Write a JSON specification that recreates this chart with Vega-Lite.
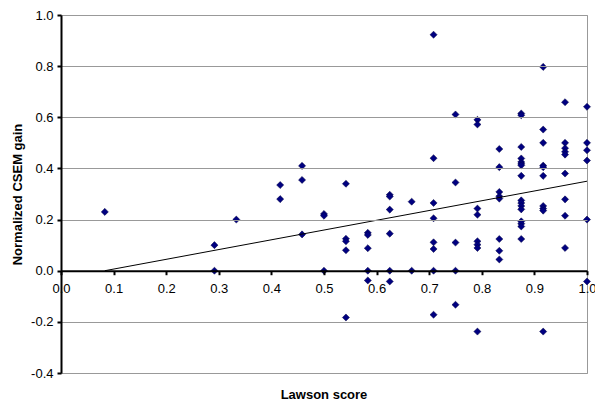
{
  "$schema": "https://vega.github.io/schema/vega-lite/v6.json",
  "width": 526,
  "height": 358,
  "autosize": {"type": "none"},
  "padding": {"left": 61, "top": 15, "right": 8, "bottom": 28},
  "background": "white",
  "config": {
    "view": {"stroke": "#999999", "strokeWidth": 1},
    "font": "Liberation Sans"
  },
  "title": {
    "text": "Lawson score",
    "orient": "bottom",
    "fontSize": 13,
    "fontWeight": "bold",
    "font": "Liberation Sans",
    "color": "black",
    "offset": 9,
    "anchor": "middle"
  },
  "datasets": {
    "points": [
      {"lawson": 0.0833, "gain": 0.23},
      {"lawson": 0.2917, "gain": 0.10},
      {"lawson": 0.2917, "gain": 0.0},
      {"lawson": 0.3333, "gain": 0.20},
      {"lawson": 0.4167, "gain": 0.335},
      {"lawson": 0.4167, "gain": 0.28},
      {"lawson": 0.4583, "gain": 0.41},
      {"lawson": 0.4583, "gain": 0.355},
      {"lawson": 0.4583, "gain": 0.142},
      {"lawson": 0.5, "gain": 0.222},
      {"lawson": 0.5, "gain": 0.215},
      {"lawson": 0.5, "gain": 0.0},
      {"lawson": 0.5417, "gain": 0.34},
      {"lawson": 0.5417, "gain": 0.125},
      {"lawson": 0.5417, "gain": 0.115},
      {"lawson": 0.5417, "gain": 0.08},
      {"lawson": 0.5417, "gain": -0.183},
      {"lawson": 0.5833, "gain": 0.148},
      {"lawson": 0.5833, "gain": 0.14},
      {"lawson": 0.5833, "gain": 0.088},
      {"lawson": 0.5833, "gain": 0.0},
      {"lawson": 0.5833, "gain": -0.038},
      {"lawson": 0.625, "gain": 0.297},
      {"lawson": 0.625, "gain": 0.29},
      {"lawson": 0.625, "gain": 0.239},
      {"lawson": 0.625, "gain": 0.145},
      {"lawson": 0.625, "gain": 0.0},
      {"lawson": 0.625, "gain": -0.042},
      {"lawson": 0.6667, "gain": 0.27},
      {"lawson": 0.6667, "gain": 0.0},
      {"lawson": 0.7083, "gain": 0.923},
      {"lawson": 0.7083, "gain": 0.44},
      {"lawson": 0.7083, "gain": 0.265},
      {"lawson": 0.7083, "gain": 0.205},
      {"lawson": 0.7083, "gain": 0.111},
      {"lawson": 0.7083, "gain": 0.085},
      {"lawson": 0.7083, "gain": 0.0},
      {"lawson": 0.7083, "gain": -0.172},
      {"lawson": 0.75, "gain": 0.611},
      {"lawson": 0.75, "gain": 0.345},
      {"lawson": 0.75, "gain": 0.11},
      {"lawson": 0.75, "gain": 0.0},
      {"lawson": 0.75, "gain": -0.133},
      {"lawson": 0.7917, "gain": 0.59},
      {"lawson": 0.7917, "gain": 0.572},
      {"lawson": 0.7917, "gain": 0.243},
      {"lawson": 0.7917, "gain": 0.219},
      {"lawson": 0.7917, "gain": 0.115},
      {"lawson": 0.7917, "gain": 0.102},
      {"lawson": 0.7917, "gain": 0.089},
      {"lawson": 0.7917, "gain": -0.238},
      {"lawson": 0.8333, "gain": 0.476},
      {"lawson": 0.8333, "gain": 0.405},
      {"lawson": 0.8333, "gain": 0.308},
      {"lawson": 0.8333, "gain": 0.291},
      {"lawson": 0.8333, "gain": 0.282},
      {"lawson": 0.8333, "gain": 0.124},
      {"lawson": 0.8333, "gain": 0.078},
      {"lawson": 0.8333, "gain": 0.044},
      {"lawson": 0.875, "gain": 0.615},
      {"lawson": 0.875, "gain": 0.608},
      {"lawson": 0.875, "gain": 0.484},
      {"lawson": 0.875, "gain": 0.439},
      {"lawson": 0.875, "gain": 0.425},
      {"lawson": 0.875, "gain": 0.418},
      {"lawson": 0.875, "gain": 0.412},
      {"lawson": 0.875, "gain": 0.371},
      {"lawson": 0.875, "gain": 0.275},
      {"lawson": 0.875, "gain": 0.265},
      {"lawson": 0.875, "gain": 0.253},
      {"lawson": 0.875, "gain": 0.24},
      {"lawson": 0.875, "gain": 0.193},
      {"lawson": 0.875, "gain": 0.184},
      {"lawson": 0.875, "gain": 0.173},
      {"lawson": 0.875, "gain": 0.124},
      {"lawson": 0.9167, "gain": 0.797},
      {"lawson": 0.9167, "gain": 0.552},
      {"lawson": 0.9167, "gain": 0.5},
      {"lawson": 0.9167, "gain": 0.411},
      {"lawson": 0.9167, "gain": 0.405},
      {"lawson": 0.9167, "gain": 0.371},
      {"lawson": 0.9167, "gain": 0.253},
      {"lawson": 0.9167, "gain": 0.243},
      {"lawson": 0.9167, "gain": 0.235},
      {"lawson": 0.9167, "gain": -0.238},
      {"lawson": 0.9583, "gain": 0.659},
      {"lawson": 0.9583, "gain": 0.5},
      {"lawson": 0.9583, "gain": 0.479},
      {"lawson": 0.9583, "gain": 0.465},
      {"lawson": 0.9583, "gain": 0.454},
      {"lawson": 0.9583, "gain": 0.38},
      {"lawson": 0.9583, "gain": 0.279},
      {"lawson": 0.9583, "gain": 0.215},
      {"lawson": 0.9583, "gain": 0.089},
      {"lawson": 1.0, "gain": 0.641},
      {"lawson": 1.0, "gain": 0.5},
      {"lawson": 1.0, "gain": 0.471},
      {"lawson": 1.0, "gain": 0.431},
      {"lawson": 1.0, "gain": 0.2},
      {"lawson": 1.0, "gain": -0.042}
    ],
    "trend": [
      {"lawson": 0.0833, "gain": 0.0},
      {"lawson": 1.0, "gain": 0.35}
    ]
  },
  "layer": [
    {
      "data": {"name": "points"},
      "mark": {
        "type": "point",
        "shape": "diamond",
        "filled": true,
        "size": 50,
        "color": "#000080",
        "stroke": "#000040",
        "strokeWidth": 0.5,
        "opacity": 1
      },
      "encoding": {
        "x": {
          "field": "lawson",
          "type": "quantitative",
          "scale": {"domain": [0, 1], "nice": false, "zero": false},
          "axis": {
            "title": null,
            "values": [0, 0.1, 0.2, 0.3, 0.4, 0.5, 0.6, 0.7, 0.8, 0.9, 1.0],
            "format": ".1f",
            "grid": false,
            "domainColor": "black",
            "domainWidth": 2,
            "tickColor": "black",
            "tickWidth": 2,
            "tickSize": 4,
            "labelFontSize": 13,
            "labelColor": "black",
            "labelFont": "Liberation Sans",
            "labelPadding": 8,
            "labelFlush": false,
            "labelOverlap": false,
            "offset": {"expr": "-(height - scale('y', 0))"},
            "zindex": 1
          }
        },
        "y": {
          "field": "gain",
          "type": "quantitative",
          "scale": {"domain": [-0.4, 1.0], "nice": false, "zero": false},
          "axis": {
            "title": "Normalized CSEM gain",
            "values": [-0.4, -0.2, 0, 0.2, 0.4, 0.6, 0.8, 1.0],
            "labelExpr": "replace(format(datum.value, '.1f'), '\u2212', '-')",
            "grid": true,
            "gridColor": "#999999",
            "gridWidth": 1,
            "domainColor": "black",
            "domainWidth": 2,
            "tickColor": "black",
            "tickWidth": 2,
            "tickSize": 4,
            "labelFontSize": 13,
            "labelColor": "black",
            "labelFont": "Liberation Sans",
            "labelPadding": 4,
            "labelFlush": false,
            "labelOverlap": false,
            "titleFontSize": 13,
            "titleFontWeight": "bold",
            "titleFont": "Liberation Sans",
            "titleColor": "black",
            "titlePadding": 6,
            "zindex": 1
          }
        }
      }
    },
    {
      "data": {"name": "trend"},
      "mark": {"type": "line", "color": "black", "strokeWidth": 1},
      "encoding": {
        "x": {"field": "lawson", "type": "quantitative"},
        "y": {"field": "gain", "type": "quantitative"}
      }
    }
  ]
}
